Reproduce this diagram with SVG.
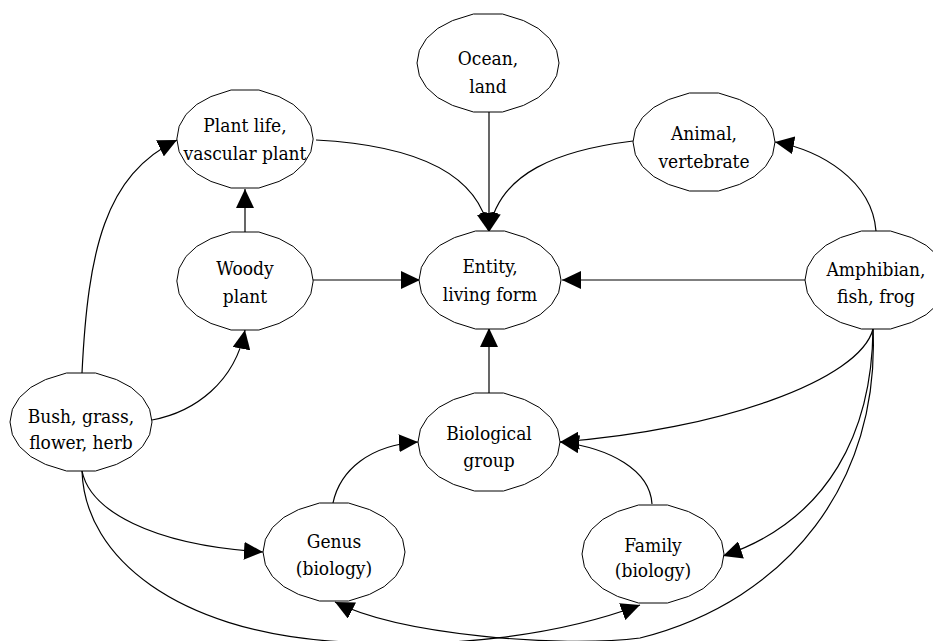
<svg xmlns="http://www.w3.org/2000/svg" xmlns:xlink="http://www.w3.org/1999/xlink" width="933" height="641" viewBox="0 0 933 641">
  <style>
    .node-outline { fill: #ffffff; stroke: #000000; stroke-width: 1; }
    .edge { fill: none; stroke: #000000; stroke-width: 1.2; marker-end: url(#arrow); }
  </style>
  <defs>
    <!-- faceted ellipse used for every node, centred on the origin -->
    <polygon id="node-shape" points="-14.5,-49 14.5,-49 35.5,-42.4 50.2,-34.6 61.5,-24.5 68.6,-12.7 71,0 68.6,12.7 61.5,24.5 50.2,34.6 35.5,42.4 14.5,49 -14.5,49 -35.5,42.4 -50.2,34.6 -61.5,24.5 -68.6,12.7 -71,0 -68.6,-12.7 -61.5,-24.5 -50.2,-34.6 -35.5,-42.4"/>
    <marker id="arrow" markerUnits="userSpaceOnUse" markerWidth="19" markerHeight="18" refX="19" refY="9" orient="auto">
      <path d="M0,0 L19,9 L0,18 z" fill="#000000"/>
    </marker>
  </defs>

  <rect width="933" height="641" fill="#ffffff"/>

  <g id="connectors">
    <path class="edge" d="M489,112 L489,232"/>
    <path class="edge" d="M316,140 C410,145 478,170 489,232"/>
    <path class="edge" d="M633,141 C560,150 498,172 489,232"/>
    <path class="edge" d="M876,231 C872,180 820,150 775,142"/>
    <path class="edge" d="M805,280 L562,280"/>
    <path class="edge" d="M313,280 L420,280"/>
    <path class="edge" d="M245,232 L245,189"/>
    <path class="edge" d="M152,420 C195,412 235,382 245,330"/>
    <path class="edge" d="M82,373 C88,250 105,175 177,140"/>
    <path class="edge" d="M489,394 L489,328"/>
    <path class="edge" d="M333,503 C340,470 370,445 418,442"/>
    <path class="edge" d="M652,504 C650,470 610,448 560,442"/>
    <path class="edge" d="M873,329 C860,380 720,430 560,442"/>
    <path class="edge" d="M873,329 C872,430 830,520 723,556"/>
    <path class="edge" d="M873,329 C880,480 790,600 640,638 C560,648 400,635 335,602"/>
    <path class="edge" d="M82,471 C90,510 150,545 263,552"/>
    <path class="edge" d="M82,471 C85,560 180,630 330,641 C450,650 560,635 640,605"/>
  </g>

  <g style="font-family: 'DejaVu Serif Condensed', 'DejaVu Serif', 'Liberation Serif', serif; font-stretch: condensed; font-size: 19px;" fill="#000000" text-anchor="middle">
  <g id="node-ocean">
    <use xlink:href="#node-shape" class="node-outline" transform="translate(488,63)"/>
    <text x="488" y="65">Ocean,</text>
    <text x="488" y="93">land</text>
  </g>
  <g id="node-plant-life">
    <use xlink:href="#node-shape" class="node-outline" transform="translate(245,139) scale(0.96,1)"/>
    <text x="245" y="132">Plant life,</text>
    <text x="245" y="160">vascular plant</text>
  </g>
  <g id="node-animal">
    <use xlink:href="#node-shape" class="node-outline" transform="translate(704,142)"/>
    <text x="704" y="140">Animal,</text>
    <text x="704" y="168">vertebrate</text>
  </g>
  <g id="node-woody-plant">
    <use xlink:href="#node-shape" class="node-outline" transform="translate(245,281) scale(0.96,1)"/>
    <text x="245" y="275">Woody</text>
    <text x="245" y="303">plant</text>
  </g>
  <g id="node-entity">
    <use xlink:href="#node-shape" class="node-outline" transform="translate(490,280)"/>
    <text x="490" y="273">Entity,</text>
    <text x="490" y="301">living form</text>
  </g>
  <g id="node-amphibian">
    <use xlink:href="#node-shape" class="node-outline" transform="translate(876,280)"/>
    <text x="876" y="276">Amphibian,</text>
    <text x="876" y="303">fish, frog</text>
  </g>
  <g id="node-bush">
    <use xlink:href="#node-shape" class="node-outline" transform="translate(81,422)"/>
    <text x="81" y="423">Bush, grass,</text>
    <text x="81" y="449">flower, herb</text>
  </g>
  <g id="node-biological-group">
    <use xlink:href="#node-shape" class="node-outline" transform="translate(489,442)"/>
    <text x="489" y="440">Biological</text>
    <text x="489" y="467">group</text>
  </g>
  <g id="node-genus">
    <use xlink:href="#node-shape" class="node-outline" transform="translate(334,552)"/>
    <text x="334" y="548">Genus</text>
    <text x="334" y="575">(biology)</text>
  </g>
  <g id="node-family">
    <use xlink:href="#node-shape" class="node-outline" transform="translate(653,554)"/>
    <text x="653" y="552">Family</text>
    <text x="653" y="577">(biology)</text>
  </g>
  </g>
</svg>
